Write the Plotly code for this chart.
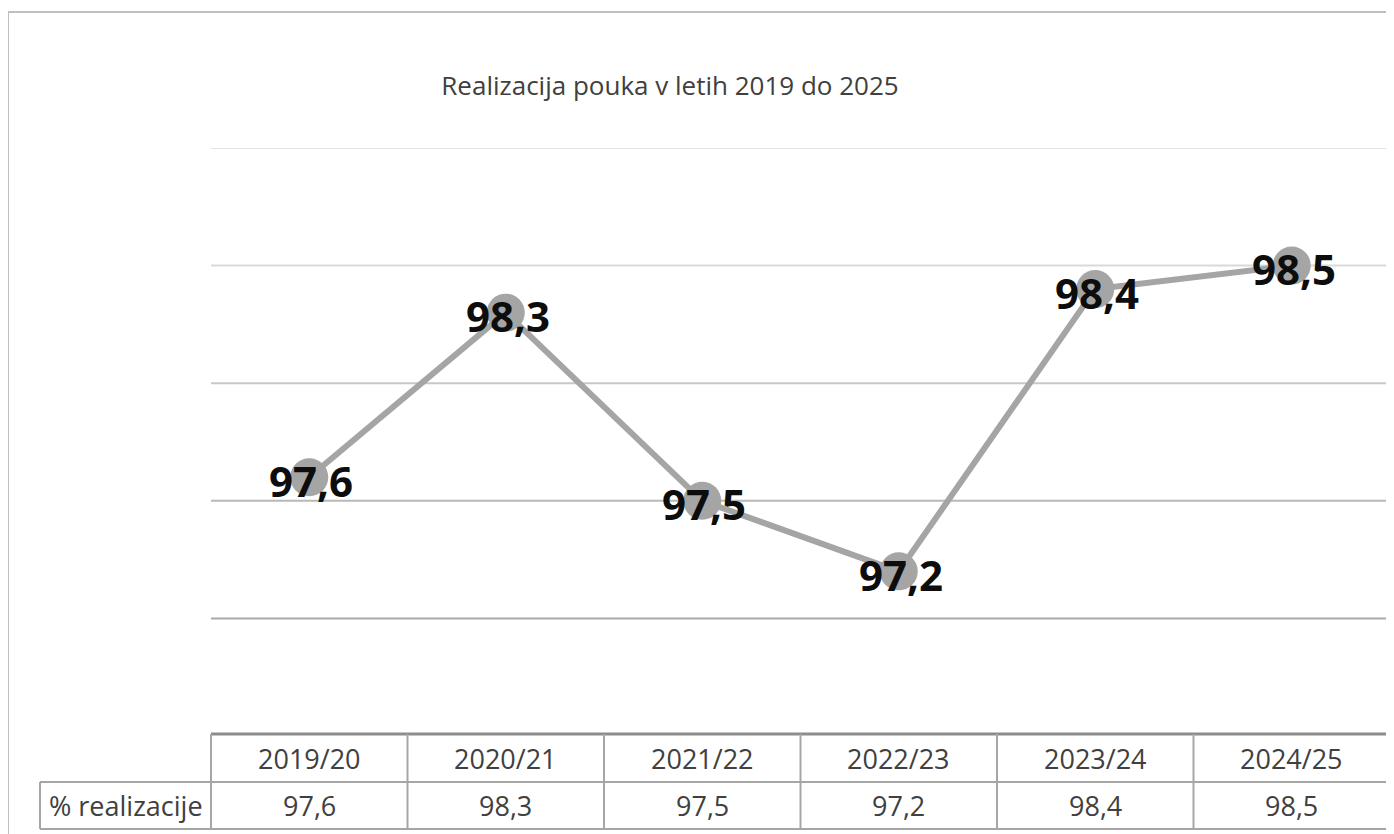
"""
Realizacija pouka - line chart with an Excel-style data table below it.
"""

import plotly.graph_objects as go

# ── Data ────────────────────────────────────────────────────────────────────
YEARS = ["2019/20", "2020/21", "2021/22", "2022/23", "2023/24", "2024/25"]
REALIZACIJA = [97.6, 98.3, 97.5, 97.2, 98.4, 98.5]
SERIES_NAME = "% realizacije"
TITLE = "Realizacija pouka v letih 2019 do 2025"
GRID_VALUES = [97.0, 97.5, 98.0, 98.5, 99.0]

# ── Palette ─────────────────────────────────────────────────────────────────
LINE_COLOR = "#a5a5a5"
TABLE_LINE = "#a6a6a6"
BORDER_COLOR = "#bfbfbf"
TEXT_COLOR = "#404040"
GRID_COLORS = ["#a9a9a9", "#b8b8b8", "#c8c8c8", "#d9d9d9", "#e3e3e3"]

# page body has an 8px margin, so the figure is drawn at (8, 8)
OFF = 8
W, H = 1394 - OFF, 834 - OFF
M_L, M_R, M_T, M_B = 211 - OFF, 4, 148 - OFF, 98
PW, PH = W - M_L - M_R, H - M_T - M_B


def px_x(p):
    """screen pixel x -> paper x"""
    return (p - OFF - M_L) / PW


def px_y(p):
    """screen pixel y -> paper y"""
    return (H - M_B - (p - OFF)) / PH


def fmt(v):
    return f"{v:.1f}".replace(".", ",")


fig = go.Figure()
fig.add_trace(go.Scatter(
    x=YEARS, y=REALIZACIJA,
    mode="lines+markers",
    line=dict(color=LINE_COLOR, width=6),
    marker=dict(color=LINE_COLOR, size=38),
    cliponaxis=False,
    hoverinfo="skip",
))

shapes = []
# gridlines
for v, c in zip(GRID_VALUES, GRID_COLORS):
    shapes.append(dict(type="line", xref="paper", yref="y", x0=0, x1=1, y0=v, y1=v,
                       line=dict(color=c, width=2), layer="below"))

# table
n = len(YEARS)
row_top, row_mid, row_bot = px_y(734), px_y(782), px_y(829)
left = px_x(40)
shapes.append(dict(type="line", xref="paper", yref="paper", x0=0, x1=1,
                   y0=row_top, y1=row_top, line=dict(color="#8c8c8c", width=3)))
for yy in (row_mid, row_bot):
    shapes.append(dict(type="line", xref="paper", yref="paper", x0=left, x1=1,
                       y0=yy, y1=yy, line=dict(color=TABLE_LINE, width=2)))
for i in range(n + 1):
    xx = i / n
    shapes.append(dict(type="line", xref="paper", yref="paper", x0=xx, x1=xx,
                       y0=row_top, y1=row_bot, line=dict(color=TABLE_LINE, width=2)))
shapes.append(dict(type="line", xref="paper", yref="paper", x0=left, x1=left,
                   y0=row_mid, y1=row_bot, line=dict(color=TABLE_LINE, width=2)))

# outer chart border
shapes.append(dict(type="line", xref="paper", yref="paper", x0=px_x(8), x1=px_x(1400),
                   y0=px_y(12), y1=px_y(12), line=dict(color=BORDER_COLOR, width=2)))
shapes.append(dict(type="line", xref="paper", yref="paper", x0=px_x(8), x1=px_x(8),
                   y0=px_y(12), y1=px_y(840), line=dict(color=BORDER_COLOR, width=2)))

annotations = []
# data labels, centred on the markers (a touch low, like Excel)
LABEL_FONT = dict(family="Open Sans", size=42, color="#0d0d0d", weight="bold")
for yr, v in zip(YEARS, REALIZACIJA):
    annotations.append(dict(x=yr, xref="x", y=v, yref="y", text=fmt(v), showarrow=False,
                            xanchor="center", yanchor="middle", xshift=2, yshift=-3,
                            font=LABEL_FONT))

TABLE_FONT = dict(family="Open Sans", size=27, color=TEXT_COLOR)
for yr, v in zip(YEARS, REALIZACIJA):
    annotations.append(dict(x=yr, xref="x", y=(row_top + row_mid) / 2, yref="paper",
                            text=yr, showarrow=False, xanchor="center", yanchor="middle",
                            font=TABLE_FONT))
    annotations.append(dict(x=yr, xref="x", y=(row_mid + row_bot) / 2, yref="paper",
                            text=fmt(v), showarrow=False, xanchor="center", yanchor="middle",
                            font=TABLE_FONT))
annotations.append(dict(x=left / 2, xref="paper", y=(row_mid + row_bot) / 2, yref="paper",
                        text=SERIES_NAME, showarrow=False, xanchor="center", yanchor="middle",
                        font=TABLE_FONT))

fig.update_layout(
    width=W, height=H,
    paper_bgcolor="white", plot_bgcolor="white",
    margin=dict(l=M_L, r=M_R, t=M_T, b=M_B),
    showlegend=False,
    title=dict(text=TITLE, x=(670 - OFF) / W, xanchor="center",
               y=1 - (86 - OFF) / H, yanchor="middle",
               font=dict(family="Open Sans", size=26, color=TEXT_COLOR)),
    xaxis=dict(range=[-0.5, n - 0.5], showgrid=False, showticklabels=False,
               zeroline=False, showline=False, fixedrange=True),
    yaxis=dict(range=[96.5, 99.0], showgrid=False, showticklabels=False,
               zeroline=False, showline=False, fixedrange=True),
    shapes=shapes,
    annotations=annotations,
)

fig.write_html("out.html", config={"displayModeBar": False})
